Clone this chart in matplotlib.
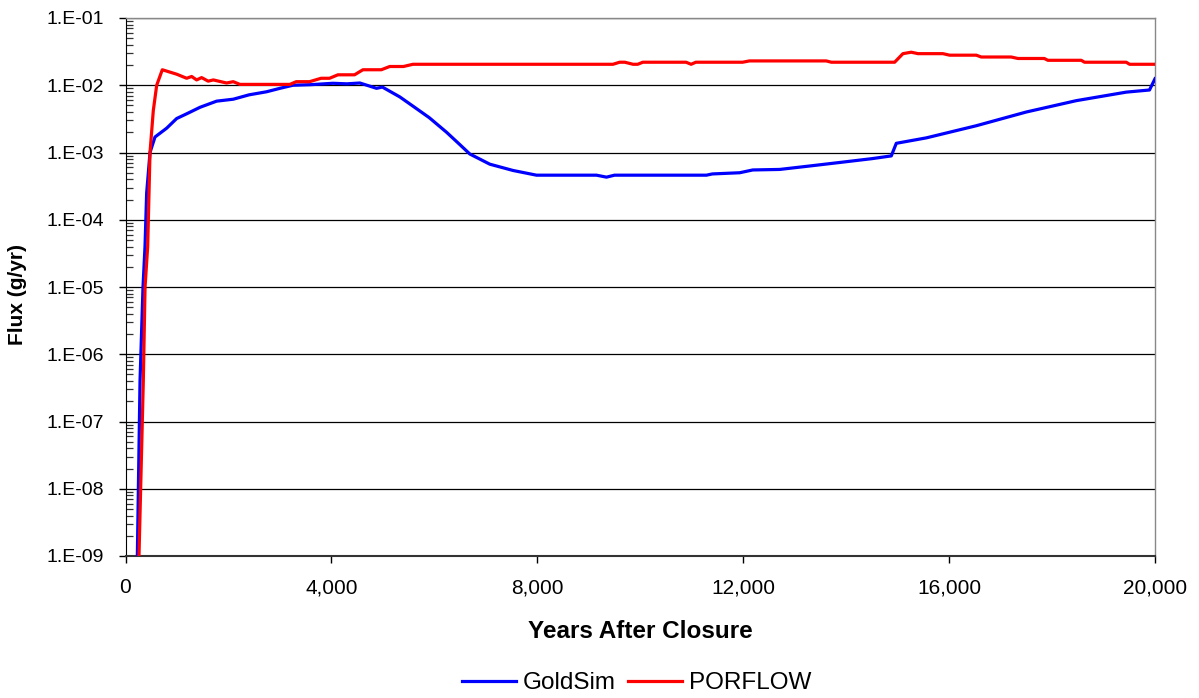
import math
import matplotlib
matplotlib.use("Agg")
import matplotlib.pyplot as plt
from matplotlib.ticker import FuncFormatter, LogLocator, FixedLocator

plt.rcParams['font.family'] = ['Liberation Sans', 'DejaVu Sans']

gold_years = [230, 282, 340, 379, 411, 476, 573, 800, 994, 1200, 1447, 1770, 2093, 2400, 2741,
              3000, 3252, 3600, 4030, 4300, 4553, 4877, 4990, 5330, 5583, 5900, 6237, 6500,
              6689, 7078, 7530, 7984, 9150, 9344, 9500, 11286, 11400, 11932, 12185, 12709,
              13291, 13938, 14500, 14877, 14974, 15557, 16528, 17499, 18470, 19441, 19893, 20000]
gold_flux = [1e-9, 4e-7, 1e-5, 4e-5, 2.5e-4, 1e-3, 1.7e-3, 2.3e-3, 3.2e-3, 3.8e-3, 4.7e-3, 5.8e-3,
             6.2e-3, 7.2e-3, 8e-3, 9e-3, 1e-2, 1.02e-2, 1.07e-2, 1.05e-2, 1.08e-2, 9e-3, 9.4e-3,
             6.7e-3, 4.9e-3, 3.3e-3, 2e-3, 1.3e-3, 9.5e-4, 6.7e-4, 5.4e-4, 4.6e-4, 4.6e-4,
             4.3e-4, 4.6e-4, 4.6e-4, 4.8e-4, 5e-4, 5.5e-4, 5.6e-4, 6.3e-4, 7.2e-4, 8.1e-4,
             8.9e-4, 1.37e-3, 1.65e-3, 2.5e-3, 4e-3, 5.9e-3, 7.9e-3, 8.5e-3, 1.25e-2]

por_years = [262, 346, 380, 431, 476, 540, 606, 715, 994, 1188, 1285, 1382, 1478, 1607, 1706,
             1964, 2093, 2223, 3194, 3317, 3576, 3800, 3964, 4127, 4450, 4612, 4970, 5133,
             5400, 5583, 9470, 9600, 9700, 9860, 9950, 10050, 10890, 10988, 11080, 11990,
             12120, 13614, 13712, 14942, 15103, 15265, 15395, 15880, 16010, 16528, 16625,
             17207, 17337, 17850, 17919, 18567, 18631, 19441, 19506, 20000]
por_flux = [1e-9, 4e-7, 1e-5, 4e-5, 1e-3, 4.2e-3, 1e-2, 1.7e-2, 1.46e-2, 1.27e-2, 1.35e-2, 1.2e-2,
            1.3e-2, 1.15e-2, 1.2e-2, 1.08e-2, 1.13e-2, 1.03e-2, 1.03e-2, 1.13e-2, 1.13e-2,
            1.27e-2, 1.27e-2, 1.43e-2, 1.43e-2, 1.7e-2, 1.7e-2, 1.9e-2, 1.9e-2, 2.05e-2,
            2.05e-2, 2.2e-2, 2.2e-2, 2.05e-2, 2.05e-2, 2.2e-2, 2.2e-2, 2.05e-2, 2.2e-2, 2.2e-2,
            2.3e-2, 2.3e-2, 2.2e-2, 2.2e-2, 2.95e-2, 3.1e-2, 2.95e-2, 2.95e-2, 2.8e-2, 2.8e-2,
            2.63e-2, 2.63e-2, 2.5e-2, 2.5e-2, 2.35e-2, 2.35e-2, 2.2e-2, 2.2e-2, 2.05e-2, 2.05e-2]

x_ticks = [0, 4000, 8000, 12000, 16000, 20000]
y_ticks = [1e-9, 1e-8, 1e-7, 1e-6, 1e-5, 1e-4, 1e-3, 1e-2, 1e-1]

W, H = 1199, 698
fig = plt.figure(figsize=(W / 100, H / 100), dpi=100)
ax = fig.add_axes([125.5 / W, 1 - 556 / H, (1155 - 125.5) / W, (556 - 18) / H])

ax.plot(gold_years, gold_flux, color='#0000FF', lw=2.3, label='GoldSim', zorder=3)
ax.plot(por_years, por_flux, color='#FF0000', lw=2.3, label='PORFLOW', zorder=3)

ax.set_yscale('log')
ax.set_xlim(0, 20000)
ax.set_ylim(1e-9, 1e-1)
ax.xaxis.set_major_locator(FixedLocator(x_ticks))
ax.yaxis.set_major_locator(FixedLocator(y_ticks))
ax.yaxis.set_minor_locator(LogLocator(base=10, subs=range(2, 10), numticks=20))
ax.xaxis.set_major_formatter(FuncFormatter(lambda v, p: f"{int(v):,}"))

def yfmt(v, p):
    e = int(round(math.log10(v)))
    sign = '-' if e < 0 else '+'
    return f"1.E{sign}{abs(e):02d}"
ax.yaxis.set_major_formatter(FuncFormatter(yfmt))
ax.yaxis.set_minor_formatter(FuncFormatter(lambda v, p: ''))

ax.grid(True, which='major', axis='y', color='black', lw=0.9, zorder=1)
ax.tick_params(axis='both', which='major', direction='out', length=5, width=1, color='black')
ax.tick_params(axis='y', which='major', labelsize=14, pad=10.5)
ax.tick_params(axis='x', which='major', labelsize=15, pad=11)
ax.tick_params(axis='y', which='minor', direction='in', length=5, width=0.9, color='#333333')

for s in ['top', 'right']:
    ax.spines[s].set_color('#888888')
    ax.spines[s].set_linewidth(1)
ax.spines['left'].set_color('black')
ax.spines['bottom'].set_color('#333333')
ax.spines['bottom'].set_linewidth(1.5)

fig.text(640 / W, 1 - 632 / H, 'Years After Closure', fontsize=17.5, fontweight='bold',
         ha='center', va='center')
fig.text(18 / W, 1 - 295 / H, 'Flux (g/yr)', fontsize=15, fontweight='bold',
         ha='center', va='center', rotation=90)

leg = fig.legend(loc='center', bbox_to_anchor=(637 / W, 1 - 683 / H), ncol=2, frameon=False,
                 fontsize=17.5, handlelength=2.2, columnspacing=0.5, handletextpad=0.3,
                 borderaxespad=0, borderpad=0)

fig.savefig('out.png', dpi=100)
